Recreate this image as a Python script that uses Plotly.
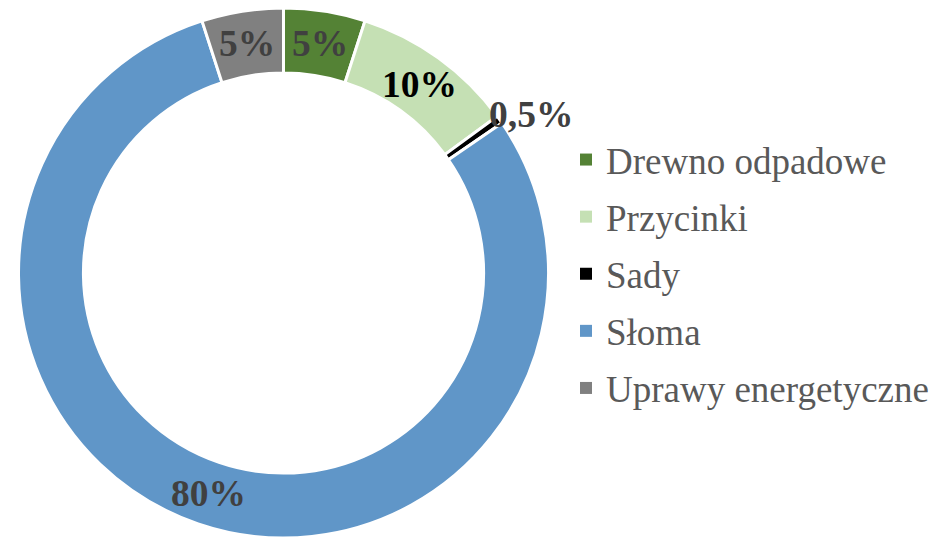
import math
import plotly.graph_objects as go

labels = ["Drewno odpadowe", "Przycinki", "Sady", "Słoma", "Uprawy energetyczne"]
values = [5, 10, 0.5, 80, 5]
text_labels = ["5%", "10%", "0,5%", "80%", "5%"]
colors = ["#548235", "#C5E0B4", "#000000", "#6096C8", "#808080"]
label_colors = ["#404040", "#000000", "#404040", "#404040", "#404040"]

W, H = 938, 540
cx, cy, R = 283.5, 273, 265
hole = 0.755

fig = go.Figure()
fig.add_trace(go.Pie(
    labels=labels, values=values, sort=False, direction="clockwise", rotation=0,
    hole=hole, textinfo="none", hoverinfo="label+value", showlegend=False,
    marker=dict(colors=colors, line=dict(color="white", width=3)),
    domain=dict(x=[(cx - R) / W, (cx + R) / W], y=[(H - cy - R) / H, (H - cy + R) / H]),
))

# legend entries (one group per label so they can be spaced apart)
for lab, col in zip(labels, colors):
    fig.add_trace(go.Scatter(
        x=[None], y=[None], mode="markers", name=lab, legendgroup=lab,
        marker=dict(symbol="square", size=12, color=col, line=dict(width=0)),
        hoverinfo="skip",
    ))

# data labels positioned at slice mid-angles
total = sum(values)
cum = 0
r_mid = R * (1 + hole) / 2
annotations = []
for v, t, c in zip(values, text_labels, label_colors):
    a = (cum + v / 2) / total * 2 * math.pi
    cum += v
    if v / total < 0.02:
        px = cx + R * math.sin(a) - 13
        py = cy - R * math.cos(a) - 5
        xa = "left"
    else:
        px = cx + r_mid * math.sin(a)
        py = cy - r_mid * math.cos(a)
        xa = "center"
    annotations.append(dict(
        x=px / W, y=1 - py / H, xref="paper", yref="paper", text=t, showarrow=False,
        xanchor=xa, yanchor="middle",
        font=dict(family="Liberation Serif", size=37.5, color=c, weight="bold"),
    ))

fig.update_layout(
    width=W, height=H, margin=dict(l=0, r=0, t=0, b=0),
    paper_bgcolor="white", plot_bgcolor="white",
    annotations=annotations,
    showlegend=True,
    xaxis=dict(visible=False), yaxis=dict(visible=False),
    legend=dict(x=566 / W, y=1 - 274 / H, xanchor="left", yanchor="middle",
                font=dict(family="Liberation Serif", size=37, color="#595959"),
                bgcolor="rgba(0,0,0,0)", tracegroupgap=6, traceorder="grouped"),
)

fig.write_html("out.html")
